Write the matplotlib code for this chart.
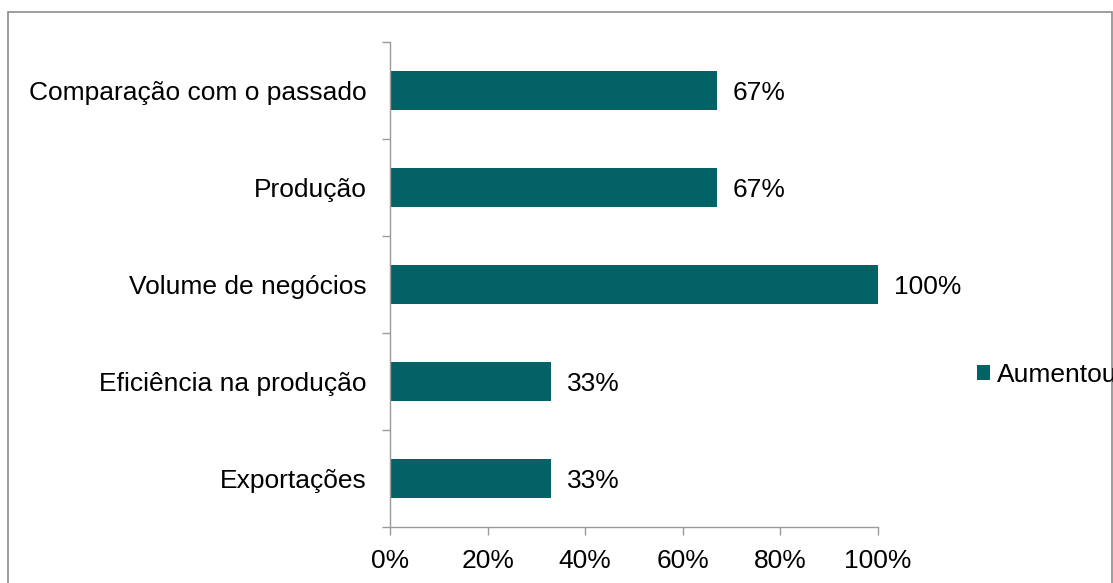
import matplotlib
matplotlib.use("Agg")
import matplotlib.pyplot as plt
from matplotlib.patches import Rectangle

categories = ["Comparação com o passado", "Produção", "Volume de negócios",
              "Eficiência na produção", "Exportações"]
values = [67, 67, 100, 33, 33]
series_name = "Aumentou"
x_ticks = [0, 20, 40, 60, 80, 100]
x_tick_labels = ["0%", "20%", "40%", "60%", "80%", "100%"]

bar_color = "#036266"
axis_color = "#9a9a9a"
fs = 19

plt.rcParams["font.family"] = ["Liberation Sans", "DejaVu Sans"]
W, H = 1113, 583
fig = plt.figure(figsize=(W / 100, H / 100), dpi=100)
ax = fig.add_axes([390 / W, 1 - 527 / H, (878 - 390) / W, (527 - 42) / H])

n = len(categories)
ypos = list(range(n))[::-1]
ax.barh(ypos, values, height=0.4, color=bar_color, label=series_name)
for y, v in zip(ypos, values):
    ax.annotate(f"{v}%", (v, y), xytext=(11.5, 0), textcoords="offset points",
                va="center_baseline", ha="left", fontsize=fs, color="black")

ax.set_xlim(0, 100)
ax.set_ylim(-0.5, n - 0.5)
ax.set_xticks(x_ticks)
ax.set_xticklabels(x_tick_labels, fontsize=fs)
ax.set_yticks(ypos)
ax.set_yticklabels(categories, fontsize=fs)
ax.tick_params(axis="y", length=0, pad=17)
ax.set_yticks([i - 0.5 for i in range(n + 1)], minor=True)
ax.tick_params(axis="y", which="minor", length=6, color=axis_color, width=1)
ax.tick_params(axis="x", length=6, color=axis_color, width=1, pad=10)

for s in ["top", "right"]:
    ax.spines[s].set_visible(False)
for s in ["left", "bottom"]:
    ax.spines[s].set_color(axis_color)
    ax.spines[s].set_linewidth(1)

# legend sits at the right edge, running past the frame as in the layout
leg = fig.legend(loc="center left", bbox_to_anchor=(977 / W, 1 - 375 / H),
                 frameon=False, fontsize=fs, handlelength=0.5,
                 handleheight=0.5, handletextpad=0.27, borderpad=0,
                 borderaxespad=0)

# outer chart frame
fig.patches.append(Rectangle((8 / W, -0.05), (W - 9) / W, 1.05 - 12 / H,
                             transform=fig.transFigure, fill=False,
                             edgecolor="#8c8c8c", linewidth=1.2))

fig.savefig("out.png", dpi=100)
